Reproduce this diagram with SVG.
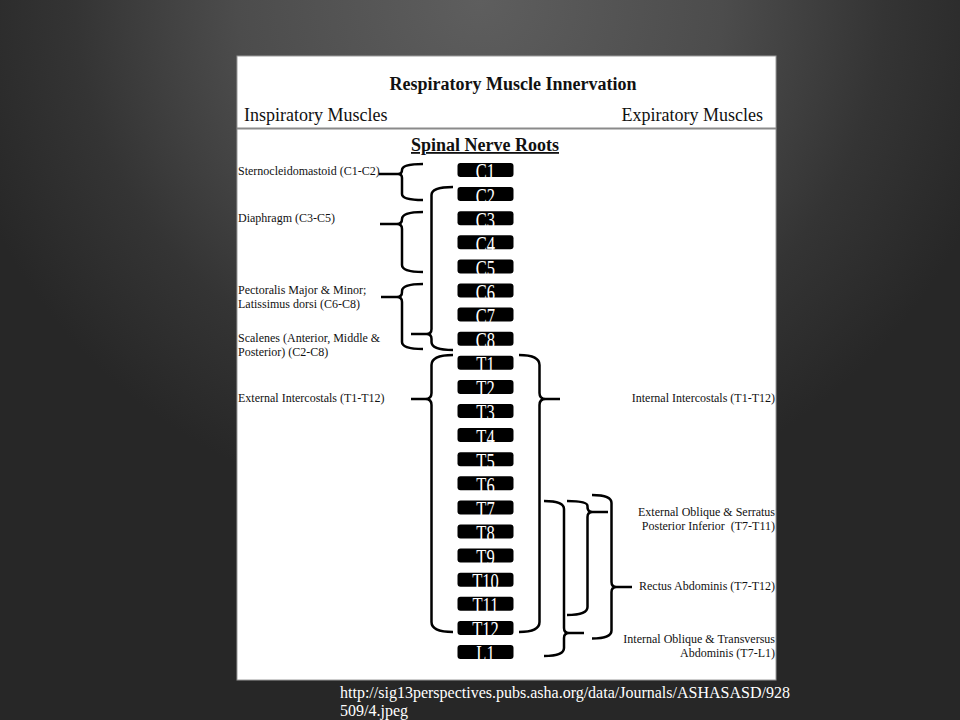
<svg xmlns="http://www.w3.org/2000/svg" width="960" height="720" viewBox="0 0 960 720">
<defs>
<radialGradient id="bg" gradientUnits="userSpaceOnUse" cx="0" cy="0" r="1" gradientTransform="translate(480,0) scale(540,520)">
<stop offset="0" stop-color="#5e5e5e"/>
<stop offset="0.45" stop-color="#4c4c4c"/>
<stop offset="0.75" stop-color="#343434"/>
<stop offset="1" stop-color="#272727"/>
</radialGradient>
<style>
.t{font-family:"Liberation Serif","Times New Roman",serif;fill:#111}
.h{font-size:18px}
.b{font-weight:bold}
.s{font-size:12px}
.e{text-anchor:end}
.m{text-anchor:middle}
.box{fill:#000}
.bl{font-family:"Liberation Serif","Times New Roman",serif;font-size:16.5px;fill:#fff;text-anchor:middle}
.br{fill:none;stroke:#000;stroke-width:2.5}
.url{font-family:"Liberation Serif","Times New Roman",serif;font-size:16px;fill:#fff}
</style>
</defs>
<rect width="960" height="720" fill="url(#bg)"/>
<rect x="237" y="56" width="539" height="624" fill="#fff" stroke="#9a9a9a" stroke-width="1"/>
<line x1="237" y1="128.5" x2="776" y2="128.5" stroke="#8a8a8a" stroke-width="2"/>
<g id="header">
<text class="t h b m" x="513" y="90">Respiratory Muscle Innervation</text>
<text class="t h" x="244" y="121">Inspiratory Muscles</text>
<text class="t h e" x="763" y="121">Expiratory Muscles</text>
<text class="t h b m" x="485" y="151" text-decoration="underline">Spinal Nerve Roots</text>
</g>
<g id="roots">
<g id="C1"><rect class="box" x="457.5" y="163" width="56" height="14" rx="3"/><text class="bl" transform="translate(485.5,179.4) scale(1,1.35)">C1</text></g>
<g id="C2"><rect class="box" x="457.5" y="187.1" width="56" height="14" rx="3"/><text class="bl" transform="translate(485.5,203.5) scale(1,1.35)">C2</text></g>
<g id="C3"><rect class="box" x="457.5" y="211.2" width="56" height="14" rx="3"/><text class="bl" transform="translate(485.5,227.6) scale(1,1.35)">C3</text></g>
<g id="C4"><rect class="box" x="457.5" y="235.3" width="56" height="14" rx="3"/><text class="bl" transform="translate(485.5,251.7) scale(1,1.35)">C4</text></g>
<g id="C5"><rect class="box" x="457.5" y="259.4" width="56" height="14" rx="3"/><text class="bl" transform="translate(485.5,275.8) scale(1,1.35)">C5</text></g>
<g id="C6"><rect class="box" x="457.5" y="283.5" width="56" height="14" rx="3"/><text class="bl" transform="translate(485.5,299.9) scale(1,1.35)">C6</text></g>
<g id="C7"><rect class="box" x="457.5" y="307.6" width="56" height="14" rx="3"/><text class="bl" transform="translate(485.5,324) scale(1,1.35)">C7</text></g>
<g id="C8"><rect class="box" x="457.5" y="331.7" width="56" height="14" rx="3"/><text class="bl" transform="translate(485.5,348.1) scale(1,1.35)">C8</text></g>
<g id="T1"><rect class="box" x="457.5" y="355.8" width="56" height="14" rx="3"/><text class="bl" transform="translate(485.5,372.2) scale(1,1.35)">T1</text></g>
<g id="T2"><rect class="box" x="457.5" y="379.9" width="56" height="14" rx="3"/><text class="bl" transform="translate(485.5,396.3) scale(1,1.35)">T2</text></g>
<g id="T3"><rect class="box" x="457.5" y="404" width="56" height="14" rx="3"/><text class="bl" transform="translate(485.5,420.4) scale(1,1.35)">T3</text></g>
<g id="T4"><rect class="box" x="457.5" y="428.1" width="56" height="14" rx="3"/><text class="bl" transform="translate(485.5,444.5) scale(1,1.35)">T4</text></g>
<g id="T5"><rect class="box" x="457.5" y="452.2" width="56" height="14" rx="3"/><text class="bl" transform="translate(485.5,468.6) scale(1,1.35)">T5</text></g>
<g id="T6"><rect class="box" x="457.5" y="476.3" width="56" height="14" rx="3"/><text class="bl" transform="translate(485.5,492.7) scale(1,1.35)">T6</text></g>
<g id="T7"><rect class="box" x="457.5" y="500.4" width="56" height="14" rx="3"/><text class="bl" transform="translate(485.5,516.8) scale(1,1.35)">T7</text></g>
<g id="T8"><rect class="box" x="457.5" y="524.5" width="56" height="14" rx="3"/><text class="bl" transform="translate(485.5,540.9) scale(1,1.35)">T8</text></g>
<g id="T9"><rect class="box" x="457.5" y="548.6" width="56" height="14" rx="3"/><text class="bl" transform="translate(485.5,565) scale(1,1.35)">T9</text></g>
<g id="T10"><rect class="box" x="457.5" y="572.7" width="56" height="14" rx="3"/><text class="bl" transform="translate(485.5,589.1) scale(1,1.35)">T10</text></g>
<g id="T11"><rect class="box" x="457.5" y="596.8" width="56" height="14" rx="3"/><text class="bl" transform="translate(485.5,613.2) scale(1,1.35)">T11</text></g>
<g id="T12"><rect class="box" x="457.5" y="620.9" width="56" height="14" rx="3"/><text class="bl" transform="translate(485.5,637.3) scale(1,1.35)">T12</text></g>
<g id="L1"><rect class="box" x="457.5" y="645" width="56" height="14" rx="3"/><text class="bl" transform="translate(485.5,661.4) scale(1,1.35)">L1</text></g>
</g>
<g id="inspiratory">
<g id="sternocleidomastoid"><text class="t s" x="238" y="175">Sternocleidomastoid (C1-C2)</text></g>
<g id="diaphragm"><text class="t s" x="238" y="222">Diaphragm (C3-C5)</text></g>
<g id="pectoralis"><text class="t s" x="238" y="294">Pectoralis Major &amp; Minor;</text><text class="t s" x="238" y="308">Latissimus dorsi (C6-C8)</text></g>
<g id="scalenes"><text class="t s" x="238" y="342">Scalenes (Anterior, Middle &amp;</text><text class="t s" x="238" y="356">Posterior) (C2-C8)</text></g>
<g id="external-intercostals"><text class="t s" x="238" y="402">External Intercostals (T1-T12)</text></g>
</g>
<g id="expiratory">
<g id="internal-intercostals"><text class="t s e" x="775" y="402">Internal Intercostals (T1-T12)</text></g>
<g id="external-oblique"><text class="t s e" x="775" y="516">External Oblique &amp; Serratus</text><text class="t s e" x="775" y="530" xml:space="preserve">Posterior Inferior  (T7-T11)</text></g>
<g id="rectus"><text class="t s e" x="775" y="590">Rectus Abdominis (T7-T12)</text></g>
<g id="internal-oblique"><text class="t s e" x="775" y="643">Internal Oblique &amp; Transversus</text><text class="t s e" x="775" y="657">Abdominis (T7-L1)</text></g>
</g>
<g id="connectors">
<path class="br" d="M423,164 Q402,164 402,170 Q402,174 398,174 H379 M398,174 Q402,174 402,178 V194 Q402,200 423,200"/>
<path class="br" d="M423,212 Q402,212 402,219 Q402,224 397,224 H380 M397,224 Q402,224 402,229 V265 Q402,272 423,272"/>
<path class="br" d="M423,284 Q402,284 402,291 V292 Q402,297 397,297 H381 M397,297 Q402,297 402,302 V342 Q402,349 423,349"/>
<path class="br" d="M453,187 Q431.5,187 431.5,195 V329 Q431.5,334 426.5,334 H411 M426.5,334 Q431.5,334 431.5,339 V342 Q431.5,350 453,350"/>
<path class="br" d="M453,355 Q431.5,355 431.5,365 V393 Q431.5,399 425.5,399 H411 M425.5,399 Q431.5,399 431.5,405 V622 Q431.5,632 453,632"/>
<path class="br" d="M519,355 Q539.5,355 539.5,365 V393 Q539.5,399 545.5,399 H560 M545.5,399 Q539.5,399 539.5,405 V622 Q539.5,632 519,632"/>
<path class="br" d="M544,501 Q564,501 564,509 V628 Q564,633 569,633 H584 M569,633 Q564,633 564,638 V648 Q564,656 544,656"/>
<path class="br" d="M567,501 Q587.5,501 587.5,506 V507 Q587.5,512 592.5,512 H608 M592.5,512 Q587.5,512 587.5,517 V607 Q587.5,615 567,615"/>
<path class="br" d="M592,495 Q611.5,495 611.5,503 V582 Q611.5,587 616.5,587 H632 M616.5,587 Q611.5,587 611.5,592 V630.5 Q611.5,638.5 592,638.5"/>
</g>
<g id="source">
<text class="url" x="340" y="698">http://sig13perspectives.pubs.asha.org/data/Journals/ASHASASD/928</text>
<text class="url" x="340" y="716">509/4.jpeg</text>
</g>
</svg>
